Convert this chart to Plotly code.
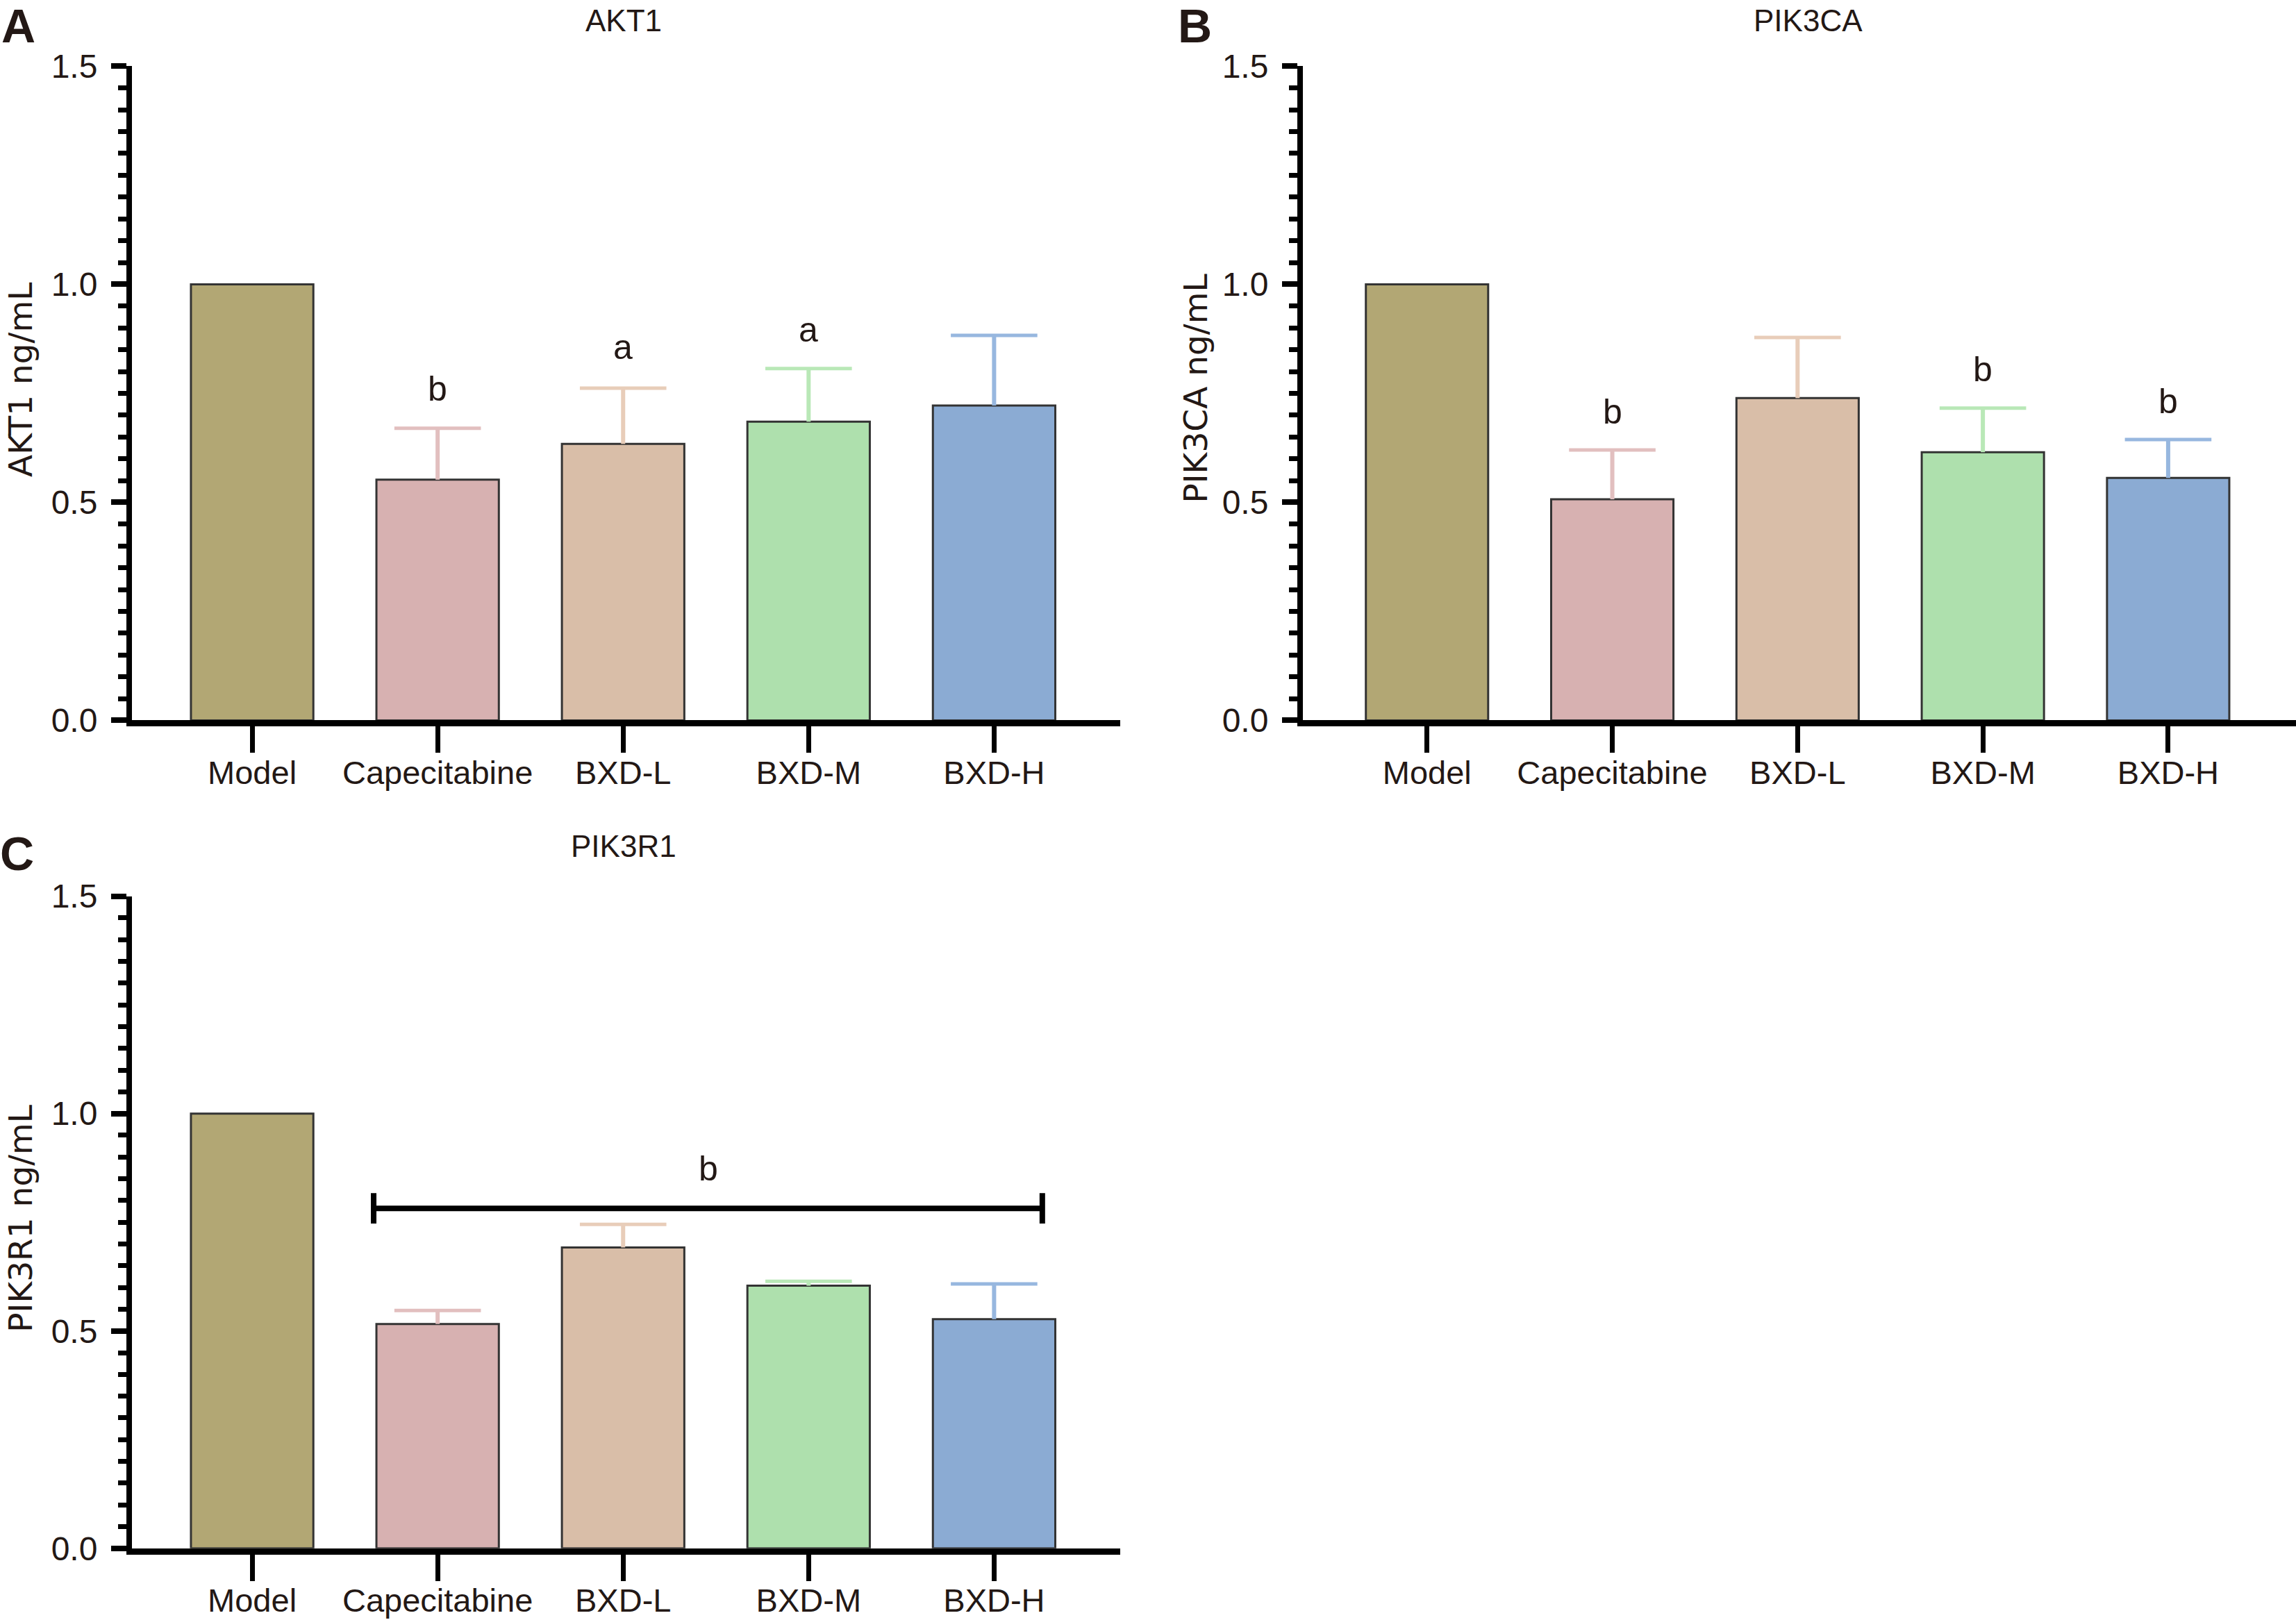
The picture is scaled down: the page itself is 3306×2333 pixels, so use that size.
import plotly.graph_objects as go

W, H = 3306, 2333

categories = ["Model", "Capecitabine", "BXD-L", "BXD-M", "BXD-H"]
bar_colors = ["#b2a774", "#d7b1b1", "#d9bea8", "#aee0ad", "#8babd3"]
err_colors = ["#c9c095", "#e2bfbf", "#e8cdb9", "#b9e8b7", "#97b7df"]

akt1_vals = [1.0, 0.552, 0.634, 0.685, 0.722]
akt1_err = [0.0, 0.118, 0.128, 0.122, 0.161]
pik3ca_vals = [1.0, 0.507, 0.739, 0.615, 0.556]
pik3ca_err = [0.0, 0.113, 0.139, 0.101, 0.088]
pik3r1_vals = [1.0, 0.516, 0.692, 0.604, 0.527]
pik3r1_err = [0.0, 0.031, 0.053, 0.010, 0.081]

y_tickvals = [0, 0.5, 1.0, 1.5]
y_ticktext = ["0.0", "0.5", "1.0", "1.5"]

# significance letters: (category index, y value, text)
akt1_sig = [(1, 0.761, "b"), (2, 0.856, "a"), (3, 0.896, "a")]
pik3ca_sig = [(1, 0.707, "b"), (3, 0.805, "b"), (4, 0.731, "b")]
pik3r1_bracket_x = [0.655, 4.26]
pik3r1_bracket_y = 0.782
pik3r1_bracket_tick = 0.035
pik3r1_sig = [(2.46, 0.873, "b")]

TEXT_COLOR = "#231815"
NARROW = "Liberation Sans, Arial, sans-serif"
WIDE = "DejaVu Sans, Verdana, sans-serif"

panels = [
    dict(name="AKT1", vals=akt1_vals, err=akt1_err, sig=akt1_sig,
         xdom=[190 / W, 1613 / W], ydom=[1 - 1035 / H, 1 - 71 / H],
         xr=[-0.648, 4.68],
         title_xy=(898, 4), ytitle_xy=(30, 533), letter="A", letter_xy=(26, 11)),
    dict(name="PIK3CA", vals=pik3ca_vals, err=pik3ca_err, sig=pik3ca_sig,
         xdom=[1876 / W, 1.0], ydom=[1 - 1035 / H, 1 - 71 / H],
         xr=[-0.67, 4.69],
         title_xy=(2603, 4), ytitle_xy=(1722, 546), letter="B", letter_xy=(1720, 11)),
    dict(name="PIK3R1", vals=pik3r1_vals, err=pik3r1_err, sig=pik3r1_sig,
         xdom=[190 / W, 1613 / W], ydom=[1 - 2255 / H, 1 - 1294 / H],
         xr=[-0.648, 4.68],
         title_xy=(898, 1220), ytitle_xy=(30, 1769), letter="C", letter_xy=(24, 1231)),
]

fig = go.Figure()
annotations = []
shapes = []

for i, p in enumerate(panels):
    sfx = "" if i == 0 else str(i + 1)
    xref, yref = "x" + sfx, "y" + sfx
    fig.add_trace(go.Bar(
        x=categories, y=p["vals"], width=0.66,
        marker=dict(color=bar_colors, line=dict(color="#333333", width=3)),
        xaxis=xref, yaxis=yref, showlegend=False, hoverinfo="skip"))
    for j, c in enumerate(categories):
        if p["err"][j] <= 0:
            continue
        top = p["vals"][j] + p["err"][j]
        fig.add_trace(go.Scatter(
            x=[c, c], y=[p["vals"][j], top], mode="lines",
            line=dict(color=err_colors[j], width=6),
            xaxis=xref, yaxis=yref, showlegend=False, hoverinfo="skip"))
        fig.add_trace(go.Scatter(
            x=[c], y=[top], mode="markers",
            marker=dict(symbol="line-ew", size=89,
                        line=dict(color=err_colors[j], width=5)),
            xaxis=xref, yaxis=yref, showlegend=False, hoverinfo="skip"))
    for (cx, cy, t) in p["sig"]:
        annotations.append(dict(x=cx, y=cy, xref=xref, yref=yref, text=t,
                                showarrow=False, xanchor="center", yanchor="middle",
                                font=dict(family=NARROW, size=50, color=TEXT_COLOR)))
    tx, ty = p["title_xy"]
    annotations.append(dict(x=tx / W, y=1 - ty / H, xref="paper", yref="paper",
                            text=p["name"], showarrow=False, xanchor="center", yanchor="middle",
                            font=dict(family=NARROW, size=44, color=TEXT_COLOR)))
    yx, yy = p["ytitle_xy"]
    annotations.append(dict(x=yx / W, y=1 - yy / H, xref="paper", yref="paper",
                            text=p["name"] + " ng/mL", textangle=-90, showarrow=False,
                            xanchor="center", yanchor="middle",
                            font=dict(family=WIDE, size=47, color=TEXT_COLOR)))
    lx, ly = p["letter_xy"]
    annotations.append(dict(x=lx / W, y=1 - ly / H, xref="paper", yref="paper",
                            text="<b>" + p["letter"] + "</b>", showarrow=False,
                            xanchor="center", yanchor="middle",
                            font=dict(family="Liberation Sans, Arial, sans-serif", size=68,
                                      color=TEXT_COLOR)))
    xa = dict(domain=p["xdom"], type="category", categoryorder="array",
              categoryarray=categories, range=p["xr"], anchor=yref,
              showline=True, linecolor="black", linewidth=9,
              ticks="outside", ticklen=38, tickwidth=7, tickcolor="black",
              ticklabelstandoff=-12,
              tickfont=dict(family=NARROW, size=47, color=TEXT_COLOR),
              showgrid=False, zeroline=False, fixedrange=True)
    ya = dict(domain=p["ydom"], range=[0, 1.5], anchor=xref,
              tickvals=y_tickvals, ticktext=y_ticktext,
              showline=True, linecolor="black", linewidth=8,
              ticks="outside", ticklen=22, tickwidth=8, tickcolor="black",
              ticklabelstandoff=10,
              minor=dict(dtick=0.05, ticks="outside", ticklen=12, tickwidth=7,
                         tickcolor="black", showgrid=False),
              tickfont=dict(family=NARROW, size=48, color=TEXT_COLOR),
              showgrid=False, zeroline=False, fixedrange=True)
    fig.update_layout(**{"xaxis" + sfx: xa, "yaxis" + sfx: ya})

# bracket on panel C
bx0, bx1 = pik3r1_bracket_x
by = pik3r1_bracket_y
bt = pik3r1_bracket_tick
for (x0, y0, x1, y1) in [(bx0, by, bx1, by), (bx0, by - bt, bx0, by + bt), (bx1, by - bt, bx1, by + bt)]:
    shapes.append(dict(type="line", xref="x3", yref="y3", x0=x0, y0=y0, x1=x1, y1=y1,
                       line=dict(color="black", width=8)))

fig.update_layout(width=W, height=H, margin=dict(l=0, r=0, t=0, b=0),
                  paper_bgcolor="white", plot_bgcolor="white",
                  annotations=annotations, shapes=shapes, bargap=0.34)

fig.write_html("out.html", config={"displayModeBar": False},
               post_script="document.body.style.margin='0';document.body.style.overflow='hidden';")
